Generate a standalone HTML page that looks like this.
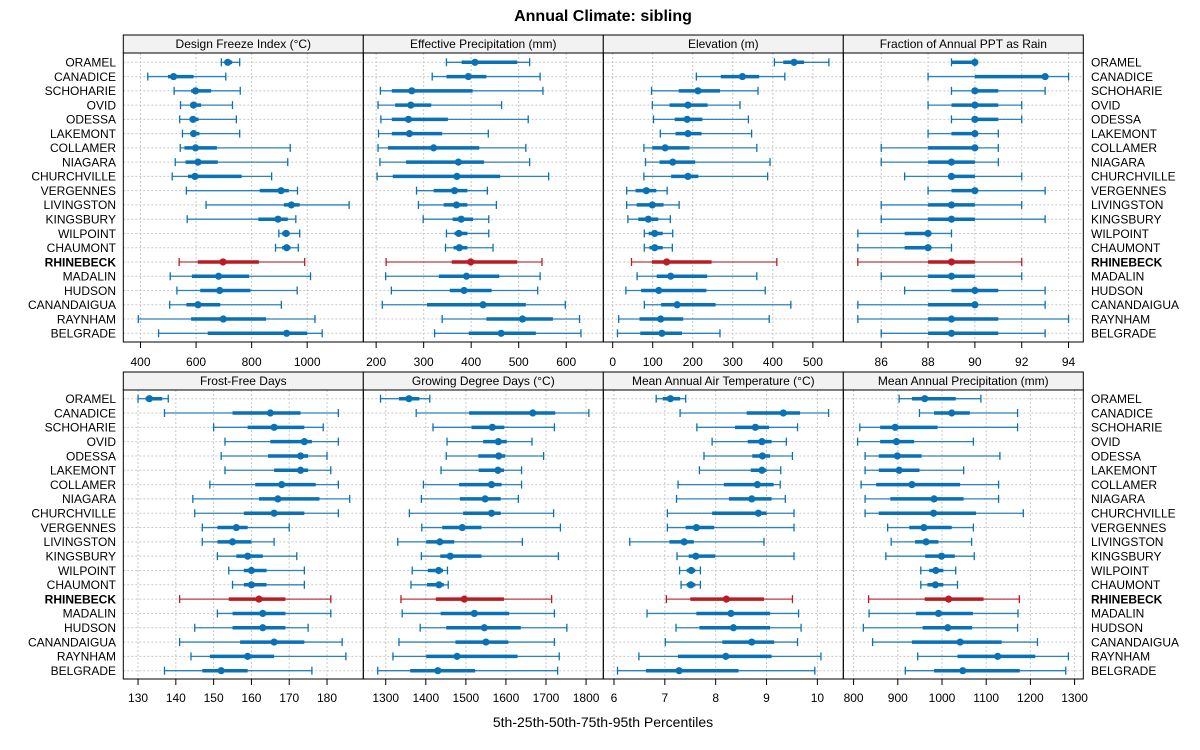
<!DOCTYPE html>
<html><head><meta charset="utf-8">
<style>
html,body{margin:0;padding:0;background:#fff;}
svg{display:block;font-family:"Liberation Sans",sans-serif;}
</style></head>
<body>
<svg id="chart" width="1200" height="750" viewBox="0 0 1200 750">
<text x="603" y="21" text-anchor="middle" font-size="16" font-weight="bold">Annual Climate: sibling</text>
<text x="603" y="727" text-anchor="middle" font-size="14">5th-25th-50th-75th-95th Percentiles</text>
</svg>
<script>
const siteNames = ["ORAMEL","CANADICE","SCHOHARIE","OVID","ODESSA","LAKEMONT","COLLAMER","NIAGARA","CHURCHVILLE","VERGENNES","LIVINGSTON","KINGSBURY","WILPOINT","CHAUMONT","RHINEBECK","MADALIN","HUDSON","CANANDAIGUA","RAYNHAM","BELGRADE"];
const highlightSite = "RHINEBECK";
const panelTitles = ["Design Freeze Index (°C)","Effective Precipitation (mm)","Elevation (m)","Fraction of Annual PPT as Rain","Frost-Free Days","Growing Degree Days (°C)","Mean Annual Air Temperature (°C)","Mean Annual Precipitation (mm)"];
const freezeIndex = [[691,702,714,730,757],[426,499,519,591,707],[521,582,598,654,759],[544,579,591,618,731],[541,577,589,609,745],[551,582,591,612,757],[543,558,598,675,939],[525,562,607,678,930],[514,571,596,764,872],[565,829,906,934,965],[636,916,943,973,1151],[568,824,895,930,959],[898,910,924,937,973],[886,910,926,940,968],[539,606,697,826,991],[507,585,681,791,1012],[531,615,685,796,964],[505,565,607,687,907],[392,582,698,852,1028],[465,642,926,1000,1054]];
const effPrecip = [[348,380,408,497,523],[318,348,394,432,545],[209,233,275,403,551],[204,240,273,316,464],[210,233,268,351,520],[205,233,270,339,436],[204,225,321,417,515],[208,263,373,427,523],[202,235,370,461,563],[285,321,365,392,434],[289,342,369,392,453],[299,361,379,404,437],[348,365,374,392,437],[346,363,375,392,446],[221,359,399,497,549],[220,332,390,459,545],[232,355,385,443,540],[213,307,425,515,598],[339,432,508,572,628],[323,395,463,536,631]];
const elevation = [[404,426,453,478,540],[209,270,324,366,430],[97,165,213,268,363],[99,142,188,237,318],[102,155,186,224,339],[119,157,188,222,347],[78,99,131,192,360],[82,117,150,206,393],[78,146,188,214,387],[35,57,84,109,136],[35,60,99,127,166],[38,64,89,114,144],[79,90,105,125,150],[79,92,105,125,149],[47,98,135,247,410],[61,110,145,236,360],[33,71,115,234,381],[79,121,161,257,445],[15,67,120,176,391],[12,69,123,173,268]];
const rainFraction = [[89,89,90,90,90],[88,90,93,93,94],[89,90,90,91,93],[88,89,90,91,92],[89,90,90,91,92],[88,89,90,90,91],[86,88,90,90,91],[86,88,89,90,91],[87,89,89,90,92],[88,89,90,90,93],[86,88,89,90,92],[86,88,89,90,93],[85,87,88,88,89],[85,87,88,88,89],[85,88,89,90,92],[86,88,89,90,92],[87,89,90,91,93],[85,88,90,90,93],[85,88,89,91,94],[86,88,89,91,93]];
const frostFree = [[130,132,133,136.4,138],[137,155,165,173,183],[150,159,166,174,179],[153,165,174,176,183],[152,164.4,173,175,180],[153,166,173,175,181],[149,161,168,177,183],[144.5,162,167,178,186],[145,158,166,174,183],[147,151,156,159,170],[147,151,155,160,166],[151,156,159,163,172],[154,158,160,164,174],[155,158,160,164,174],[141,154,162,169,181],[151,155,163,169,181],[145,155,163,169,175],[141,157,166,174,184],[144,149,159,166,185],[137,147,152,159,176]];
const growingDD = [[1287,1333,1358,1384,1410],[1376,1508,1667,1723,1807],[1418,1514,1566,1596,1721],[1453,1543,1581,1602,1665],[1451,1531,1582,1598,1694],[1438,1532,1580,1595,1639],[1394,1483,1564,1589,1639],[1389,1485,1548,1587,1631],[1359,1493,1564,1587,1719],[1390,1441,1491,1539,1736],[1330,1401,1435,1471,1641],[1389,1436,1461,1539,1731],[1366,1405,1432,1443,1454],[1363,1403,1433,1445,1456],[1338,1425,1496,1595,1714],[1341,1437,1521,1608,1721],[1386,1451,1546,1637,1752],[1333,1474,1550,1606,1721],[1318,1401,1478,1629,1733],[1280,1361,1430,1523,1729]];
const airTemp = [[6.83,6.96,7.11,7.30,7.41],[7.30,8.61,9.33,9.66,10.22],[7.63,8.38,8.78,9.05,9.61],[7.93,8.63,8.91,9.10,9.39],[7.77,8.72,8.92,9.07,9.51],[7.68,8.69,8.91,9.0,9.28],[7.26,8.16,8.82,9.14,9.27],[7.23,8.26,8.71,9.10,9.37],[7.05,7.93,8.84,9.0,9.54],[7.05,7.41,7.62,7.97,9.54],[6.31,7.09,7.38,7.57,8.95],[7.24,7.47,7.61,7.99,9.54],[7.29,7.43,7.52,7.60,7.70],[7.32,7.43,7.51,7.60,7.70],[7.03,7.50,8.21,8.95,9.51],[6.65,7.62,8.30,9.07,9.63],[7.22,7.68,8.35,9.07,9.68],[7.01,8.13,8.71,9.15,9.61],[6.49,7.26,8.20,9.10,10.07],[6.07,6.63,7.28,8.45,9.95]];
const annualPrecip = [[903,932,961,1031,1088],[949,982,1022,1063,1171],[814,860,894,990,1171],[809,860,897,937,1071],[826,857,899,954,1131],[826,857,903,949,1049],[817,851,932,1041,1128],[826,883,982,1049,1128],[826,857,981,1077,1184],[877,926,959,1022,1071],[885,939,964,992,1067],[873,962,999,1029,1073],[952,971,986,1003,1031],[952,967,985,1003,1035],[834,961,1015,1094,1175],[835,941,992,1070,1172],[822,956,1013,1068,1171],[843,932,1041,1135,1216],[945,1035,1126,1211,1286],[917,982,1047,1176,1280]];
const domains = [[338,1202],[173,678],[-23.4,576],[84.38,94.63],[126.1,189.6],[1244,1843],[5.79,10.51],[776.7,1319.7]];
const tickLabels = [[400,600,800,1000],[200,300,400,500,600],[0,100,200,300,400,500],[86,88,90,92,94],[130,140,150,160,170,180],[1300,1400,1500,1600,1700,1800],[6,7,8,9,10],[800,900,1000,1100,1200,1300]];
const panelData = [freezeIndex,effPrecip,elevation,rainFraction,frostFree,growingDD,airTemp,annualPrecip];

const NS = "http://www.w3.org/2000/svg";
const svg = document.getElementById("chart");
function mk(tag, attrs, parent){
  const e = document.createElementNS(NS, tag);
  for (const k in attrs) e.setAttribute(k, attrs[k]);
  (parent||svg).appendChild(e);
  return e;
}
const panelX = [123.3,363.3,603.3,843.3];
const panelW = 240;
const rowGeom = [{stripTop:35,plotTop:53,plotBot:342,first:62.3,step:14.263,tickY:362},{stripTop:372,plotTop:390,plotBot:679,first:398.7,step:14.316,tickY:698}];
const BLUE="#0a72b4", RED="#b81d24";

for (let p=0;p<8;p++){
  const r = Math.floor(p/4), c = p%4;
  const g = rowGeom[r];
  const x0 = panelX[c], x1 = x0+panelW;
  const [d0,d1] = domains[p];
  const sx = v => x0 + (v-d0)/(d1-d0)*panelW;
  const sy = i => g.first + i*g.step;
  const grp = mk("g",{});
  
  
  const strip = mk("rect",{x:x0,y:g.stripTop,width:panelW,height:g.plotTop-g.stripTop,fill:"#f2f2f2",stroke:"#000","stroke-width":1},grp);
  
  
  const st = mk("text",{x:x0+panelW/2,y:g.stripTop+13,"text-anchor":"middle","font-size":12},grp);
  st.textContent = panelTitles[p];
  
  
  // grid
  tickLabels[p].forEach(t=>{
    const x = sx(t);
    const gl = mk("line",{x1:x,x2:x,y1:g.plotTop,y2:g.plotBot,stroke:"#c8c8c8","stroke-dasharray":"2,2","stroke-width":1},grp);
    
    
    const tk = mk("line",{x1:x,x2:x,y1:g.plotBot,y2:g.plotBot+6,stroke:"#000","stroke-width":1},grp);
    
    
    const tl = mk("text",{x:x,y:g.tickY+4,"text-anchor":"middle","font-size":12},grp);
    tl.textContent = t;
    
    
  });
  siteNames.forEach((n,i)=>{
    const hl = mk("line",{x1:x0,x2:x1,y1:sy(i),y2:sy(i),stroke:"#c8c8c8","stroke-dasharray":"2,2","stroke-width":1},grp);
    
    
  });
  // marks
  panelData[p].forEach((q,i)=>{
    const y = sy(i);
    const col = siteNames[i]===highlightSite ? RED : BLUE;
    const m = mk("g",{},grp);
    
    
    mk("line",{x1:sx(q[0]),x2:sx(q[4]),y1:y,y2:y,stroke:col,"stroke-width":1.3,"stroke-opacity":0.85},m);
    mk("line",{x1:sx(q[0]),x2:sx(q[0]),y1:y-4,y2:y+4,stroke:col,"stroke-width":1.3},m);
    mk("line",{x1:sx(q[4]),x2:sx(q[4]),y1:y-4,y2:y+4,stroke:col,"stroke-width":1.3},m);
    mk("line",{x1:sx(q[1]),x2:sx(q[3]),y1:y,y2:y,stroke:col,"stroke-width":3.5},m);
    mk("circle",{cx:sx(q[2]),cy:y,r:3.6,fill:col},m);
  });
  const box = mk("rect",{x:x0,y:g.plotTop,width:panelW,height:g.plotBot-g.plotTop,fill:"none",stroke:"#000","stroke-width":1},grp);
  
  
}
// site labels
for (let r=0;r<2;r++){
  const g = rowGeom[r];
  siteNames.forEach((n,i)=>{
    const y = g.first + i*g.step + 4.3;
    const bold = n===highlightSite ? "bold":"normal";
    const L = mk("text",{x:116,y:y,"text-anchor":"end","font-size":12,"font-weight":bold});
    L.textContent = n;
    
    
    const R = mk("text",{x:1091,y:y,"text-anchor":"start","font-size":12,"font-weight":bold});
    R.textContent = n;
    
    
  });
}
</script>
</body></html>
